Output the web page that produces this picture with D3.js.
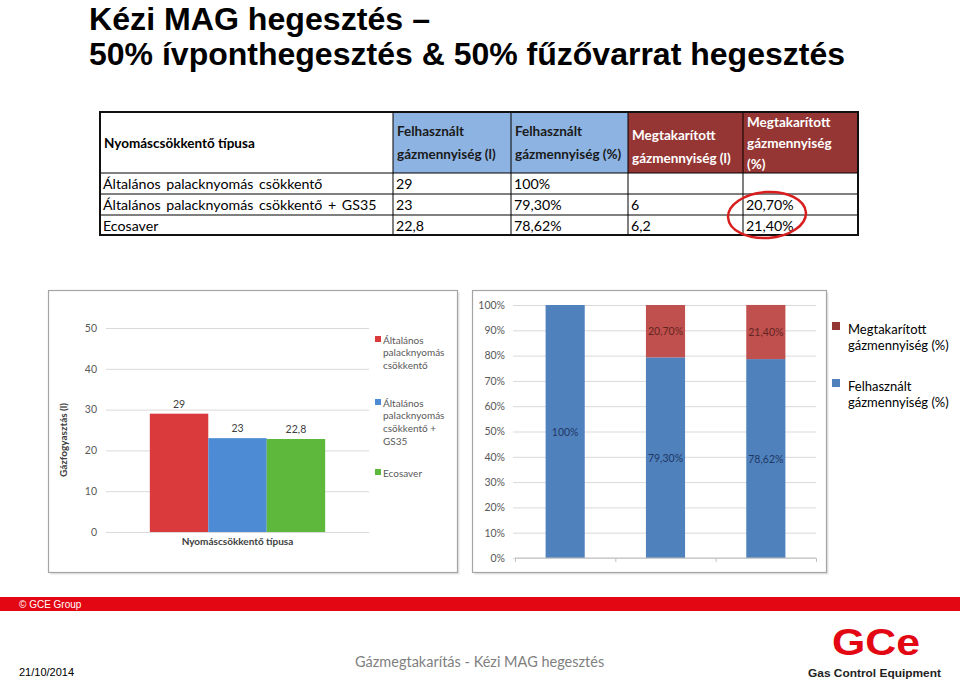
<!DOCTYPE html>
<html><head><meta charset="utf-8">
<script src="https://cdn.jsdelivr.net/npm/d3@7"></script>
<style>
html,body{margin:0;padding:0;background:#fff;}
svg{display:block;}
</style></head>
<body>
<svg id="c" width="960" height="681"></svg>
<script>
// ---------- DATA ----------
const titleLines = ["Kézi MAG hegesztés –", "50% ívponthegesztés & 50% fűzővarrat hegesztés"];
const categories = ["Általános palacknyomás csökkentő", "Általános palacknyomás csökkentő + GS35", "Ecosaver"];
const legendLinesLeft = [["Általános", "palacknyomás", "csökkentő"], ["Általános", "palacknyomás", "csökkentő +", "GS35"], ["Ecosaver"]];
const usedLitres = [29, 23, 22.8];
const usedPct = [100, 79.30, 78.62];
const savedLitres = [null, 6, 6.2];
const savedPct = [null, 20.70, 21.40];
const headers = [["Nyomáscsökkentő típusa"], ["Felhasznált", "gázmennyiség (l)"], ["Felhasznált", "gázmennyiség (%)"], ["Megtakarított", "gázmennyiség (l)"], ["Megtakarított", "gázmennyiség", "(%)"]];
const leftTicks = [0, 10, 20, 30, 40, 50];
const rightTicks = [0, 10, 20, 30, 40, 50, 60, 70, 80, 90, 100];
const stackSeries = ["Megtakarított gázmennyiség (%)", "Felhasznált gázmennyiség (%)"];
const leftXTitle = "Nyomáscsökkentő típusa";
const leftYTitle = "Gázfogyasztás (l)";
const footerLeft = "© GCE Group";
const footerDate = "21/10/2014";
const footerCenter = "Gázmegtakarítás - Kézi MAG hegesztés";

// ---------- helpers ----------
const svg = d3.select("#c");
const calibri = "Lato, 'Open Sans', sans-serif";
const fmtNum = v => v == null ? "" : String(v).replace(".", ",");
const fmtPct = v => v == null ? "" : (Number.isInteger(v) ? v + "%" : v.toFixed(2).replace(".", ",") + "%");

// ---------- TITLE ----------
const tl = svg.append("g");
tl.selectAll("text").data(titleLines).join("text")
  .attr("x", 89).attr("y", (d, i) => 30 + i * 35)
  .attr("font-family", "'Liberation Sans Narrow', 'Arial Narrow', 'Liberation Sans', sans-serif")
  .attr("font-weight", "bold").attr("font-size", 32).attr("fill", "#000")
  .attr("textLength", (d, i) => i === 0 ? 341 : 756).attr("lengthAdjust", "spacingAndGlyphs")
  .text(d => d);

// ---------- TABLE ----------
const colX = [100, 393, 511, 628, 743, 858];
const rowY = [112, 173, 194, 215, 235];
const headFill = [null, "#8db3e2", "#8db3e2", "#963634", "#963634"];
const headColor = ["#000", "#1a1a1a", "#1a1a1a", "#fff", "#fff"];
const tb = svg.append("g");
headers.forEach((h, c) => {
  if (headFill[c]) tb.append("rect").attr("x", colX[c]).attr("y", rowY[0]).attr("width", colX[c + 1] - colX[c]).attr("height", rowY[1] - rowY[0]).attr("fill", headFill[c]);
  const n = h.length;
  const lh = n === 3 ? 21 : 23;
  const cy = (rowY[0] + rowY[1]) / 2 + (c === 3 ? 4 : 0);
  const startBase = cy - (n - 1) * lh / 2 + 5;
  h.forEach((line, k) => {
    tb.append("text").attr("x", colX[c] + 4).attr("y", startBase + k * lh)
      .attr("font-family", calibri).attr("font-weight", "bold").attr("font-size", 13.5)
      .attr("fill", headColor[c]).text(line);
  });
});
const rows = categories.map((cat, i) => [cat, fmtNum(usedLitres[i]), fmtPct(usedPct[i]), fmtNum(savedLitres[i]), fmtPct(savedPct[i])]);
rows.forEach((r, i) => {
  r.forEach((cell, c) => {
    tb.append("text").attr("x", colX[c] + 3).attr("y", rowY[i + 1] + 16)
      .attr("font-family", calibri).attr("font-size", 14.2).attr("word-spacing", 2).attr("fill", "#000").text(cell);
  });
});
// grid lines
rowY.slice(1, -1).forEach(y => tb.append("line").attr("x1", colX[0]).attr("x2", colX[5]).attr("y1", y).attr("y2", y).attr("stroke", "#000").attr("stroke-width", 1));
colX.slice(1, -1).forEach(x => tb.append("line").attr("x1", x).attr("x2", x).attr("y1", rowY[0]).attr("y2", rowY[4]).attr("stroke", "#000").attr("stroke-width", 1));
tb.append("rect").attr("x", colX[0]).attr("y", rowY[0]).attr("width", colX[5] - colX[0]).attr("height", rowY[4] - rowY[0]).attr("fill", "none").attr("stroke", "#111").attr("stroke-width", 2);
// red circle
tb.append("ellipse").attr("cx", 767).attr("cy", 215).attr("rx", 39).attr("ry", 23)
  .attr("transform", "rotate(-4 767 215)")
  .attr("fill", "none").attr("stroke", "#d81e1e").attr("stroke-width", 2.5);

// ---------- LEFT CHART ----------
function chartFrame(x, y, w, h) {
  svg.append("rect").attr("x", x + 2).attr("y", y + 2).attr("width", w).attr("height", h).attr("fill", "#e6e6e6");
  svg.append("rect").attr("x", x).attr("y", y).attr("width", w).attr("height", h).attr("fill", "#fff").attr("stroke", "#a5a5a5").attr("stroke-width", 1.2);
}
chartFrame(48.5, 290.5, 409, 282);
const L = { x0: 106, x1: 369, y0: 532, y1: 328 };
const ly = d3.scaleLinear().domain([0, 50]).range([L.y0, L.y1]);
const lxGroup = d3.scaleBand().domain([leftXTitle]).range([L.x0, L.x1]).paddingInner(0).paddingOuter(0.25);
const lx = d3.scaleBand().domain(categories).range([lxGroup(leftXTitle), lxGroup(leftXTitle) + lxGroup.bandwidth()]).padding(0);
const leftColors = d3.scaleOrdinal().domain(categories).range(["#da3a3c", "#4e8bd5", "#5db83b"]);
const gL = svg.append("g");
const ayL = gL.append("g").attr("transform", `translate(${L.x0},0)`)
  .call(d3.axisLeft(ly).tickValues(leftTicks).tickSize(-(L.x1 - L.x0)).tickPadding(9).tickFormat(d3.format("d")));
ayL.select(".domain").remove();
ayL.selectAll(".tick line").attr("stroke", "#d9d9d9");
ayL.selectAll(".tick text").attr("font-family", calibri).attr("font-size", 10.5).attr("fill", "#595959");
gL.selectAll("rect.bar").data(categories).join("rect").attr("class", "bar")
  .attr("x", d => lx(d)).attr("width", lx.bandwidth())
  .attr("y", (d, i) => ly(usedLitres[i])).attr("height", (d, i) => L.y0 - ly(usedLitres[i]))
  .attr("fill", d => leftColors(d));
gL.selectAll("text.lab").data(categories).join("text").attr("class", "lab")
  .attr("x", d => lx(d) + lx.bandwidth() / 2).attr("y", (d, i) => ly(usedLitres[i]) - 6)
  .attr("text-anchor", "middle").attr("font-family", calibri).attr("font-size", 10.5).attr("fill", "#404040")
  .text((d, i) => fmtNum(usedLitres[i]));
gL.append("text").attr("x", lxGroup(leftXTitle) + lxGroup.bandwidth() / 2).attr("y", 545)
  .attr("text-anchor", "middle").attr("font-family", calibri).attr("font-weight", "bold").attr("font-size", 10).attr("fill", "#404040")
  .text(leftXTitle);
gL.append("text").attr("transform", "translate(67,440) rotate(-90)")
  .attr("text-anchor", "middle").attr("font-family", calibri).attr("font-weight", "bold").attr("font-size", 10).attr("fill", "#404040")
  .text(leftYTitle);
const legStartY = [340, 403, 473];
categories.forEach((c, i) => {
  gL.append("rect").attr("x", 375).attr("y", legStartY[i] - 4).attr("width", 6).attr("height", 6).attr("fill", leftColors(c));
  legendLinesLeft[i].forEach((line, k) => {
    gL.append("text").attr("x", 383).attr("y", legStartY[i] + 3.5 + k * 12.8)
      .attr("font-family", calibri).attr("font-size", 10).attr("fill", "#595959").text(line);
  });
});

// ---------- RIGHT CHART ----------
chartFrame(472.5, 290.5, 354, 282);
const R = { x0: 515, x1: 816, y0: 558, y1: 305 };
const ry = d3.scaleLinear().domain([0, 100]).range([R.y0, R.y1]);
const rx = d3.scaleBand().domain(categories).range([R.x0, R.x1]).paddingInner(0.61).paddingOuter(0.305);
const stackColors = d3.scaleOrdinal().domain(stackSeries).range(["#c0504d", "#4f81bd"]);
const labColors = d3.scaleOrdinal().domain(stackSeries).range(["#632523", "#1f3864"]);
const gR = svg.append("g");
const ayR = gR.append("g").attr("transform", `translate(${R.x0 - 2},0)`)
  .call(d3.axisLeft(ry).tickValues(rightTicks).tickSize(-(R.x1 - R.x0 + 2)).tickPadding(8).tickFormat(d => d + "%"));
ayR.select(".domain").remove();
ayR.selectAll(".tick line").attr("stroke", "#d9d9d9");
ayR.selectAll(".tick text").attr("font-family", calibri).attr("font-size", 10.5).attr("fill", "#595959");
const tableRows = categories.map((c, i) => ({ cat: c, [stackSeries[1]]: usedPct[i], [stackSeries[0]]: savedPct[i] || 0, used: usedPct[i], saved: savedPct[i] }));
const stack = d3.stack().keys([stackSeries[1], stackSeries[0]])(tableRows);
stack.forEach(layer => {
  gR.selectAll(null).data(layer).join("rect")
    .attr("x", d => rx(d.data.cat)).attr("width", rx.bandwidth())
    .attr("y", d => ry(d[1])).attr("height", d => ry(d[0]) - ry(d[1]))
    .attr("fill", stackColors(layer.key));
  gR.selectAll(null).data(layer.filter(d => d[1] - d[0] > 0)).join("text")
    .attr("x", d => rx(d.data.cat) + rx.bandwidth() / 2).attr("y", d => ry((d[0] + d[1]) / 2) + 4)
    .attr("text-anchor", "middle").attr("font-family", calibri).attr("font-size", 10.5).attr("fill", labColors(layer.key))
    .text(d => fmtPct(layer.key === stackSeries[1] ? d.data.used : d.data.saved));
});
// x axis
const rxEdges = d3.scaleLinear().domain([0, categories.length]).range([R.x0, R.x1]);
const axR = gR.append("g").attr("transform", `translate(0,${R.y0})`)
  .call(d3.axisBottom(rxEdges).ticks(categories.length).tickSize(4).tickFormat(""));
axR.select(".domain").attr("stroke", "#bfbfbf").attr("d", `M${R.x0},0H${R.x1}`);
axR.selectAll(".tick line").attr("stroke", "#bfbfbf");
// legend
const legY = [322, 379];
stackSeries.forEach((s, i) => {
  gR.append("rect").attr("x", 832).attr("y", legY[i]).attr("width", 8).attr("height", 8).attr("fill", i === 0 ? "#953735" : "#4f81bd");
  const words = s.split(" ");
  [words[0], words.slice(1).join(" ")].forEach((line, k) => {
    gR.append("text").attr("x", 848).attr("y", legY[i] + 12 + k * 16)
      .attr("font-family", calibri).attr("font-size", 13).attr("fill", "#000").text(line);
  });
});

// ---------- FOOTER ----------
svg.append("rect").attr("x", 0).attr("y", 597).attr("width", 960).attr("height", 14).attr("fill", "#e30613");
svg.append("text").attr("x", 19).attr("y", 608).attr("font-family", "'Liberation Sans', Arial, sans-serif").attr("font-size", 10).attr("fill", "#fff").text(footerLeft);
svg.append("text").attr("x", 19).attr("y", 676).attr("font-family", "'Liberation Sans', Arial, sans-serif").attr("font-size", 11).attr("fill", "#000").text(footerDate);
svg.append("text").attr("x", 355).attr("y", 667).attr("font-family", calibri).attr("font-size", 14.5).attr("fill", "#7f7f7f").text(footerCenter);
// logo
svg.append("text").attr("x", 832).attr("y", 655).attr("font-family", "'Liberation Sans', Arial, sans-serif").attr("font-weight", "bold")
  .attr("font-size", 36).attr("fill", "#e30613").attr("textLength", 88).attr("lengthAdjust", "spacingAndGlyphs").text("GCe");
svg.append("text").attr("x", 808).attr("y", 677).attr("font-family", "'Liberation Sans', Arial, sans-serif").attr("font-weight", "bold")
  .attr("font-size", 10.5).attr("fill", "#222").attr("textLength", 133).attr("lengthAdjust", "spacingAndGlyphs").text("Gas Control Equipment");
</script>
</body></html>
